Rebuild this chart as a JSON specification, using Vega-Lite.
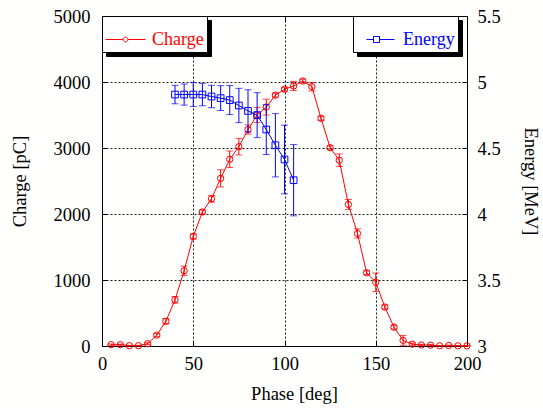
{
  "$schema": "https://vega.github.io/schema/vega-lite/v6.json",
  "width": 365,
  "height": 330,
  "autosize": "none",
  "padding": {"left": 102, "top": 16, "right": 76, "bottom": 62},
  "background": "#fffffd",
  "config": {
    "font": "Liberation Serif",
    "style": {
      "guide-label": {"font": "Liberation Serif", "fontSize": 18.5, "fill": "black"},
      "guide-title": {"font": "Liberation Serif", "fontSize": 18.5, "fill": "black", "fontWeight": "normal"}
    },
    "view": {"stroke": "black", "strokeWidth": 1},
    "axis": {
      "labelFont": "Liberation Serif",
      "titleFont": "Liberation Serif",
      "labelFontSize": 18.5,
      "titleFontSize": 18.5,
      "titleFontWeight": "normal",
      "labelColor": "black",
      "titleColor": "black",
      "domainColor": "black",
      "tickColor": "black",
      "tickSize": -5,
      "gridColor": "black",
      "gridDash": [2, 2],
      "gridOpacity": 0.9
    },
    "legend": {
      "labelFont": "Liberation Serif",
      "labelFontSize": 18,
      "title": null,
      "padding": 3,
      "symbolSize": 1600,
      "symbolStrokeWidth": 1,
      "symbolFillColor": "transparent",
      "labelOffset": 6,
      "orient": "none"
    }
  },
  "datasets": {
    "none": [],
    "charge": [
      {"phase": 5, "charge": 20, "lo": 10, "hi": 30},
      {"phase": 10, "charge": 20, "lo": 10, "hi": 30},
      {"phase": 15, "charge": 5, "lo": 0, "hi": 10},
      {"phase": 20, "charge": 5, "lo": 0, "hi": 10},
      {"phase": 25, "charge": 35, "lo": 20, "hi": 50},
      {"phase": 30, "charge": 165, "lo": 140, "hi": 190},
      {"phase": 35, "charge": 375, "lo": 335, "hi": 415},
      {"phase": 40, "charge": 700, "lo": 650, "hi": 750},
      {"phase": 45, "charge": 1140, "lo": 1070, "hi": 1210},
      {"phase": 50, "charge": 1660, "lo": 1620, "hi": 1700},
      {"phase": 55, "charge": 2030, "lo": 2000, "hi": 2060},
      {"phase": 60, "charge": 2230, "lo": 2180, "hi": 2280},
      {"phase": 65, "charge": 2540, "lo": 2410, "hi": 2670},
      {"phase": 70, "charge": 2830, "lo": 2705, "hi": 2955},
      {"phase": 75, "charge": 3020, "lo": 2895, "hi": 3145},
      {"phase": 80, "charge": 3280, "lo": 3210, "hi": 3350},
      {"phase": 85, "charge": 3500, "lo": 3385, "hi": 3615},
      {"phase": 90, "charge": 3620, "lo": 3500, "hi": 3740},
      {"phase": 95, "charge": 3800, "lo": 3770, "hi": 3830},
      {"phase": 100, "charge": 3890, "lo": 3860, "hi": 3920},
      {"phase": 105, "charge": 3940, "lo": 3870, "hi": 4010},
      {"phase": 110, "charge": 4015, "lo": 3985, "hi": 4045},
      {"phase": 115, "charge": 3930, "lo": 3865, "hi": 3995},
      {"phase": 120, "charge": 3450, "lo": 3420, "hi": 3480},
      {"phase": 125, "charge": 3005, "lo": 2975, "hi": 3035},
      {"phase": 130, "charge": 2815, "lo": 2720, "hi": 2910},
      {"phase": 135, "charge": 2145, "lo": 2070, "hi": 2220},
      {"phase": 140, "charge": 1705, "lo": 1635, "hi": 1775},
      {"phase": 145, "charge": 1110, "lo": 1080, "hi": 1140},
      {"phase": 150, "charge": 965, "lo": 825, "hi": 1105},
      {"phase": 155, "charge": 590, "lo": 560, "hi": 620},
      {"phase": 160, "charge": 285, "lo": 255, "hi": 315},
      {"phase": 165, "charge": 85, "lo": 10, "hi": 160},
      {"phase": 170, "charge": 28, "lo": 10, "hi": 46},
      {"phase": 175, "charge": 15, "lo": 5, "hi": 25},
      {"phase": 180, "charge": 12, "lo": 2, "hi": 22},
      {"phase": 185, "charge": 3, "lo": 0, "hi": 8},
      {"phase": 190, "charge": 8, "lo": 3, "hi": 13},
      {"phase": 195, "charge": 2, "lo": 0, "hi": 6},
      {"phase": 200, "charge": 2, "lo": 0, "hi": 6}
    ],
    "energy": [
      {"phase": 40, "energy": 4.905, "lo": 4.835, "hi": 4.975},
      {"phase": 45, "energy": 4.905, "lo": 4.825, "hi": 4.985},
      {"phase": 50, "energy": 4.905, "lo": 4.815, "hi": 4.995},
      {"phase": 55, "energy": 4.905, "lo": 4.82, "hi": 4.99},
      {"phase": 60, "energy": 4.89, "lo": 4.805, "hi": 4.975},
      {"phase": 65, "energy": 4.878, "lo": 4.784, "hi": 4.972},
      {"phase": 70, "energy": 4.863, "lo": 4.753, "hi": 4.973},
      {"phase": 75, "energy": 4.822, "lo": 4.692, "hi": 4.952},
      {"phase": 80, "energy": 4.781, "lo": 4.621, "hi": 4.941},
      {"phase": 85, "energy": 4.749, "lo": 4.579, "hi": 4.919},
      {"phase": 90, "energy": 4.64, "lo": 4.45, "hi": 4.83},
      {"phase": 95, "energy": 4.521, "lo": 4.281, "hi": 4.761},
      {"phase": 100, "energy": 4.413, "lo": 4.153, "hi": 4.673},
      {"phase": 105, "energy": 4.256, "lo": 3.986, "hi": 4.526}
    ]
  },
  "layer": [
    {
      "data": {"name": "none"},
      "mark": {"type": "line"},
      "encoding": {
        "x": {"field": "phase", "type": "quantitative", "scale": {"domain": [0, 200], "nice": false}, "axis": null},
        "y": {"field": "charge", "type": "quantitative", "axis": null},
        "color": {
          "datum": "ChargeShadow",
          "scale": {"domain": ["ChargeShadow"], "range": ["black"]},
          "legend": {
            "legendX": 4, "legendY": 4, "labelExpr": "'Charge'",
            "fillColor": "black", "strokeColor": "black", "labelColor": "black",
            "symbolType": "M-1,0L-0.12,0M0.12,0L1,0M-0.12,0A0.12,0.12,0,1,1,0.12,0A0.12,0.12,0,1,1,-0.12,0"
          }
        }
      }
    },
    {
      "data": {"name": "none"},
      "mark": {"type": "line"},
      "encoding": {
        "x": {"field": "phase", "type": "quantitative", "scale": {"domain": [0, 200], "nice": false}, "axis": null},
        "y": {"field": "energy", "type": "quantitative", "axis": null},
        "color": {
          "datum": "EnergyShadow",
          "scale": {"domain": ["EnergyShadow"], "range": ["black"]},
          "legend": {
            "legendX": 255, "legendY": 4, "labelExpr": "'Energy'",
            "fillColor": "black", "strokeColor": "black", "labelColor": "black",
            "symbolType": "M-0.5,0L-0.15,0M0.15,0L0.9,0M-0.15,-0.15L0.15,-0.15L0.15,0.15L-0.15,0.15Z"
          }
        }
      }
    },
    {
      "data": {"name": "charge"},
      "layer": [
        {
          "mark": {"type": "errorbar", "ticks": true, "size": 7, "thickness": 1, "color": "#ff0000"},
          "encoding": {
            "x": {"field": "phase", "type": "quantitative", "scale": {"domain": [0, 200], "nice": false}, "title": "Phase [deg]"},
            "y": {"field": "lo", "type": "quantitative", "scale": {"domain": [0, 5000], "nice": false}, "title": "Charge [pC]"},
            "y2": {"field": "hi"}
          }
        },
        {
          "mark": {"type": "line", "strokeWidth": 1, "point": {"filled": false, "shape": "circle", "size": 40, "strokeWidth": 1}},
          "encoding": {
            "x": {
              "field": "phase", "type": "quantitative",
              "scale": {"domain": [0, 200], "nice": false},
              "title": "Phase [deg]",
              "axis": {"orient": "bottom", "values": [0, 50, 100, 150, 200], "grid": true, "labelPadding": 13, "titlePadding": 12, "titleX": 192, "labelFlush": false,
                "labelFont": "Liberation Serif", "titleFont": "Liberation Serif", "labelFontSize": 18.5, "titleFontSize": 18.5}
            },
            "y": {
              "field": "charge", "type": "quantitative",
              "scale": {"domain": [0, 5000], "nice": false},
              "title": "Charge [pC]",
              "axis": {"orient": "left", "values": [0, 1000, 2000, 3000, 4000, 5000], "format": "d", "grid": true, "labelPadding": 17, "titlePadding": 24, "labelFlush": false,
                "labelFont": "Liberation Serif", "titleFont": "Liberation Serif", "labelFontSize": 18.5, "titleFontSize": 18.5}
            },
            "color": {
              "datum": "Charge",
              "scale": {"domain": ["Charge"], "range": ["#ff0000"]},
              "legend": {
                "legendX": 0, "legendY": 0,
                "fillColor": "white", "strokeColor": "black",
                "symbolType": "M-1,0L-0.12,0M0.12,0L1,0M-0.12,0A0.12,0.12,0,1,1,0.12,0A0.12,0.12,0,1,1,-0.12,0",
                "labelColor": "#ff0000"
              }
            }
          }
        }
      ]
    },
    {
      "data": {"name": "energy"},
      "layer": [
        {
          "mark": {"type": "errorbar", "ticks": true, "size": 7, "thickness": 1, "color": "#0000ff"},
          "encoding": {
            "x": {"field": "phase", "type": "quantitative", "scale": {"domain": [0, 200], "nice": false}},
            "y": {"field": "lo", "type": "quantitative", "scale": {"domain": [3, 5.5], "nice": false}, "title": "Energy [MeV]"},
            "y2": {"field": "hi"}
          }
        },
        {
          "mark": {"type": "line", "strokeWidth": 1, "point": {"filled": false, "shape": "square", "size": 45, "strokeWidth": 1}},
          "encoding": {
            "x": {
              "field": "phase", "type": "quantitative",
              "scale": {"domain": [0, 200], "nice": false},
              "axis": {"orient": "top", "values": [0, 50, 100, 150, 200], "labels": false, "title": null, "grid": false, "domain": false}
            },
            "y": {
              "field": "energy", "type": "quantitative",
              "scale": {"domain": [3, 5.5], "nice": false},
              "title": "Energy [MeV]",
              "axis": {"orient": "right", "values": [3, 3.5, 4, 4.5, 5, 5.5], "format": "~g", "grid": false, "labelPadding": 15, "titlePadding": 20, "titleAngle": 90, "labelFlush": false,
                "labelFont": "Liberation Serif", "titleFont": "Liberation Serif", "labelFontSize": 18.5, "titleFontSize": 18.5}
            },
            "color": {
              "datum": "Energy",
              "scale": {"domain": ["Energy"], "range": ["#0000ff"]},
              "legend": {
                "legendX": 251, "legendY": 0,
                "fillColor": "white", "strokeColor": "black",
                "symbolType": "M-0.5,0L-0.15,0M0.15,0L0.9,0M-0.15,-0.15L0.15,-0.15L0.15,0.15L-0.15,0.15Z",
                "labelColor": "#0000ff"
              }
            }
          }
        }
      ]
    }
  ],
  "resolve": {"scale": {"y": "independent", "color": "independent"}, "axis": {"x": "independent"}}
}
